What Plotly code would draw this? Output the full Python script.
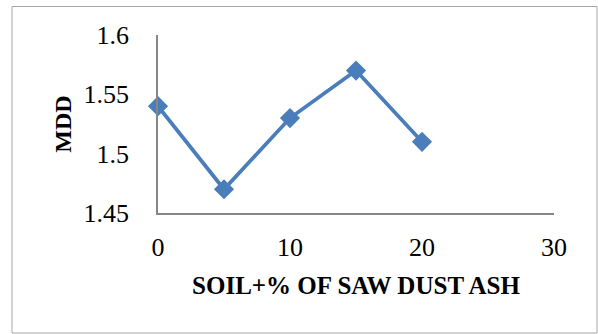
import plotly.graph_objects as go

# Saw dust ash content (%) and maximum dry density
ash_pct = [0, 5, 10, 15, 20]
mdd = [1.54, 1.47, 1.53, 1.57, 1.51]

x_ticks = [0, 10, 20, 30]
y_ticks = [1.45, 1.5, 1.55, 1.6]
y_tick_text = ["1.45", "1.5", "1.55", "1.6"]

W, H = 598, 334
L, R, T, B = 158, 44, 35, 121
pw, ph = W - L - R, H - T - B

font_family = "Liberation Serif"

fig = go.Figure(
    go.Scatter(
        x=ash_pct,
        y=mdd,
        mode="lines+markers",
        line=dict(color="#4A7EBB", width=3.75),
        marker=dict(symbol="diamond", size=15.5, color="#4A7EBB"),
        showlegend=False,
        cliponaxis=False,
    )
)

# outer frame around the chart area
fig.add_shape(
    type="rect", xref="paper", yref="paper",
    x0=(12 - L) / pw, x1=(597 - L) / pw,
    y0=(H - 333 - B) / ph, y1=(H - 6.5 - B) / ph,
    line=dict(color="#A6A6A6", width=1), fillcolor="rgba(0,0,0,0)",
    layer="below",
)

fig.update_layout(
    width=W, height=H,
    margin=dict(l=L, r=R, t=T, b=B),
    paper_bgcolor="white", plot_bgcolor="white",
    font=dict(family=font_family, color="black", size=26),
    xaxis=dict(
        range=[0, 30], tickvals=x_ticks, showgrid=False, zeroline=False,
        showline=True, linecolor="#868686", linewidth=1.5,
        ticks="", ticklabelstandoff=10,
        tickfont=dict(size=26),
        title=dict(text="<b>SOIL+% OF SAW DUST ASH</b>", font=dict(size=25), standoff=16),
    ),
    yaxis=dict(
        range=[1.45, 1.6], tickvals=y_ticks, ticktext=y_tick_text,
        showgrid=False, zeroline=False,
        showline=True, linecolor="#868686", linewidth=1.5,
        ticks="", ticklabelstandoff=22,
        tickfont=dict(size=26),
        title=dict(text="<b>MDD</b>", font=dict(size=24), standoff=5),
    ),
)

fig.write_html("out.html")
